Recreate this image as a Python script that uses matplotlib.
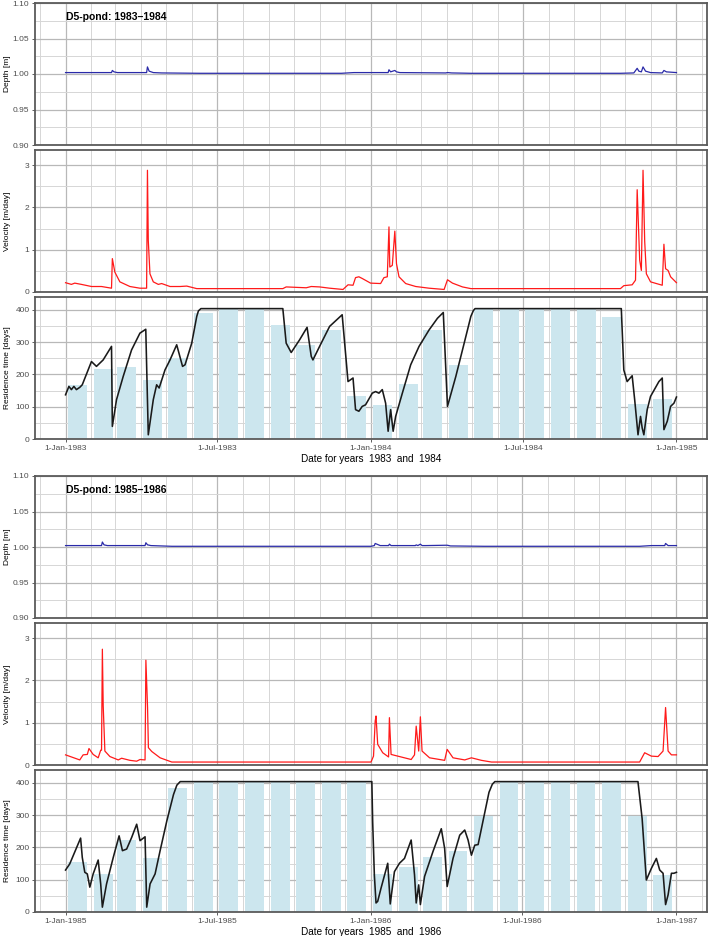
import numpy as np
import matplotlib
matplotlib.use('Agg')
import matplotlib.pyplot as plt
import matplotlib.dates as mdates
from matplotlib.ticker import MultipleLocator, FuncFormatter
import datetime as dt

plt.rcParams['font.family'] = ['Liberation Sans', 'DejaVu Sans']

# ---------------- data ----------------
years_a = (1983, 1984)
years_b = (1985, 1986)

# monthly residence time bars [days]
bars_a = [168, 217, 222, 184, 251, 390, 402, 402, 354, 292, 338, 134,
          104, 170, 338, 230, 402, 402, 402, 402, 402, 379, 109, 125]
bars_b = [154, 118, 224, 167, 385, 402, 402, 402, 402, 402, 402, 402,
          117, 140, 169, 189, 296, 402, 402, 402, 402, 402, 297, 115]

# residence time line (day offset from 1 Jan of first year, value in days)
res_a_day = [0, 4, 7, 10, 13, 17, 20, 31, 37, 45, 55, 56, 61, 69, 79, 89, 96, 99, 105, 109,
             112, 119, 125, 133, 140, 143, 151, 157, 159, 162, 260, 264, 270, 280, 289, 294,
             296, 304, 316, 331, 338, 344, 347, 351, 355, 359, 367, 371, 375, 379, 383, 386,
             389, 392, 395, 403, 413, 423, 435, 445, 452, 457, 467, 477, 485, 488, 490, 665,
             668, 672, 678, 681, 685, 688, 690, 692, 696, 700, 710, 714, 716, 720, 724, 728,
             731]
res_a_val = [137, 163, 153, 163, 153, 160, 168, 240, 225, 245, 287, 39, 122, 194, 276, 328,
             340, 13, 122, 168, 158, 214, 245, 292, 225, 230, 297, 380, 397, 404, 404, 297,
             268, 307, 346, 256, 245, 287, 349, 385, 178, 189, 91, 86, 101, 106, 142, 147,
             142, 153, 111, 24, 91, 24, 70, 142, 230, 287, 338, 374, 392, 101, 194, 297, 380,
             398, 404, 404, 214, 178, 196, 122, 13, 70, 34, 13, 91, 132, 178, 189, 29, 55, 101,
             111, 130]

res_b_day = [0, 5, 18, 20, 23, 26, 29, 33, 39, 42, 44, 49, 57, 64, 68, 73, 79, 85, 89, 95,
             97, 101, 107, 113, 121, 129, 133, 137, 366, 367, 369, 371, 373, 377, 385, 388,
             393, 399, 405, 413, 417, 419, 422, 424, 429, 439, 449, 453, 456, 463, 471, 477,
             481, 485, 489, 493, 499, 506, 510, 513, 684, 689, 694, 700, 706, 710, 714, 717,
             720, 724, 727, 730]
res_b_val = [130, 149, 229, 169, 123, 118, 77, 118, 161, 87, 15, 87, 169, 236, 190, 195, 231,
             272, 221, 233, 15, 87, 118, 190, 282, 364, 393, 404, 404, 279, 115, 28, 33, 74,
             151, 25, 125, 151, 166, 223, 115, 28, 84, 23, 110, 187, 258, 197, 79, 166, 238,
             254, 223, 176, 207, 209, 284, 371, 396, 404, 404, 289, 99, 135, 166, 130, 120, 23,
             53, 120, 120, 123]

# velocity [m/day]
vel_a_day = [0, 7, 11, 19, 31, 43, 55, 56, 59, 65, 77, 89, 97, 98, 99, 101, 105, 111, 115,
             125, 137, 145, 157, 260, 264, 288, 294, 304, 316, 332, 338, 344, 347, 351, 355,
             365, 377, 381, 385, 387, 388, 391, 394, 396, 399, 407, 419, 435, 453, 457, 463,
             475, 485, 664, 668, 678, 682, 684, 687, 689, 691, 693, 695, 700, 714, 716, 718,
             721, 724, 731]
vel_a_val = [0.22, 0.18, 0.21, 0.18, 0.13, 0.13, 0.09, 0.79, 0.47, 0.24, 0.13, 0.09, 0.09,
             2.88, 1.22, 0.43, 0.24, 0.18, 0.20, 0.13, 0.13, 0.14, 0.08, 0.08, 0.12, 0.10,
             0.13, 0.12, 0.09, 0.06, 0.17, 0.16, 0.34, 0.36, 0.32, 0.21, 0.20, 0.34, 0.36,
             1.54, 0.59, 0.63, 1.44, 0.67, 0.36, 0.20, 0.13, 0.09, 0.06, 0.29, 0.21, 0.12,
             0.08, 0.08, 0.15, 0.17, 0.28, 2.42, 0.75, 0.51, 2.88, 1.20, 0.43, 0.24, 0.16,
             1.13, 0.55, 0.51, 0.36, 0.22]

vel_b_day = [0, 17, 21, 26, 28, 33, 39, 42, 43, 44, 45, 47, 53, 63, 67, 77, 85, 89, 95, 96,
             98, 99, 103, 113, 127, 365, 368, 370, 371, 373, 379, 386, 387, 389, 399, 413,
             417, 419, 422, 424, 426, 435, 453, 456, 463, 477, 485, 497, 509, 686, 692, 700,
             708, 714, 717, 720, 724, 730]
vel_b_val = [0.24, 0.12, 0.24, 0.25, 0.39, 0.25, 0.17, 0.35, 0.35, 2.74, 1.40, 0.33, 0.20,
             0.12, 0.16, 0.11, 0.09, 0.13, 0.12, 2.48, 1.36, 0.41, 0.32, 0.17, 0.07, 0.07,
             0.21, 1.04, 1.16, 0.49, 0.29, 0.19, 1.12, 0.25, 0.20, 0.13, 0.24, 0.92, 0.33,
             1.14, 0.33, 0.17, 0.11, 0.37, 0.17, 0.12, 0.17, 0.11, 0.07, 0.07, 0.29, 0.21,
             0.20, 0.33, 1.36, 0.33, 0.24, 0.24]

# depth [m]
dep_a_day = [0, 40, 55, 56, 58, 62, 90, 97, 98, 100, 105, 115, 160, 260, 330, 345, 360, 386,
             387, 389, 394, 396, 400, 455, 457, 462, 485, 664, 680, 684, 686, 689, 691, 694,
             700, 714, 716, 719, 731]
dep_a_val = [1.002, 1.002, 1.002, 1.005, 1.003, 1.002, 1.002, 1.002, 1.010, 1.004, 1.002,
             1.0015, 1.001, 1.001, 1.001, 1.002, 1.002, 1.002, 1.006, 1.003, 1.005, 1.003,
             1.002, 1.0015, 1.002, 1.0015, 1.001, 1.001, 1.0015, 1.008, 1.004, 1.003, 1.010,
             1.004, 1.002, 1.0015, 1.005, 1.003, 1.002]

dep_b_day = [0, 30, 43, 44, 46, 50, 95, 96, 98, 102, 127, 365, 369, 370, 372, 376, 386, 387,
             389, 418, 419, 421, 424, 426, 430, 456, 460, 500, 686, 700, 716, 717, 720, 730]
dep_b_val = [1.002, 1.002, 1.002, 1.007, 1.003, 1.002, 1.002, 1.006, 1.003, 1.002, 1.001,
             1.001, 1.002, 1.005, 1.004, 1.002, 1.002, 1.004, 1.002, 1.002, 1.003, 1.002,
             1.004, 1.002, 1.002, 1.0025, 1.0015, 1.001, 1.001, 1.002, 1.002, 1.005, 1.002,
             1.002]

# ---------------- figure ----------------
W, H = 709, 936
fig = plt.figure(figsize=(W / 100, H / 100), dpi=100)

LEFT, RIGHT = 35, 707


def rect(top, bottom):
    return [LEFT / W, 1 - bottom / H, (RIGHT - LEFT) / W, (bottom - top) / H]


def date_fmt(x, pos):
    d = mdates.num2date(x)
    return f"{d.day}-{d.strftime('%b-%Y')}"


def style(ax, x0, x1, ylim, major, minor, fmt, show_x):
    pad = (x1 - x0) * 0.05
    ax.set_xlim(x0 - pad, x1 + pad)
    ax.set_ylim(*ylim)
    ax.yaxis.set_major_locator(MultipleLocator(major))
    ax.yaxis.set_minor_locator(MultipleLocator(minor))
    ax.yaxis.set_major_formatter(FuncFormatter(fmt))
    ax.xaxis.set_major_locator(mdates.MonthLocator(bymonth=[1, 7]))
    ax.xaxis.set_minor_locator(mdates.MonthLocator())
    ax.xaxis.set_major_formatter(FuncFormatter(date_fmt))
    ax.grid(which='minor', color='#d6d6d6', lw=0.7)
    ax.grid(which='major', color='#b8b8b8', lw=0.9)
    ax.set_axisbelow(True)
    for s in ax.spines.values():
        s.set_color('#5a5a5a')
        s.set_linewidth(1.3)
    ax.tick_params(which='major', length=2.5, width=0.6, color='#444444',
                   labelcolor='#4d4d4d', labelsize=6, pad=1.5)
    ax.tick_params(which='minor', length=0)
    if not show_x:
        ax.tick_params(axis='x', which='both', length=0, labelbottom=False)
    ax.yaxis.set_label_coords(-0.035, 0.5)


blocks = [
    dict(years=years_a, top=3, bars=bars_a, rd=res_a_day, rv=res_a_val,
         vd=vel_a_day, vv=vel_a_val, dd=dep_a_day, dv=dep_a_val),
    dict(years=years_b, top=476, bars=bars_b, rd=res_b_day, rv=res_b_val,
         vd=vel_b_day, vv=vel_b_val, dd=dep_b_day, dv=dep_b_val),
]

for b in blocks:
    y1, y2 = b['years']
    start = mdates.date2num(dt.datetime(y1, 1, 1))
    end = mdates.date2num(dt.datetime(y2 + 1, 1, 1))
    t = b['top']

    # depth
    ax1 = fig.add_axes(rect(t, t + 142))
    ax1.plot(start + np.asarray(b['dd'], float), b['dv'], color='#2a2aa8', lw=0.9)
    style(ax1, start, end, (0.90, 1.10), 0.05, 0.025, lambda v, p: f"{v:.2f}", False)
    ax1.set_ylabel('Depth [m]', fontsize=6)
    ax1.text(start, 1.08, f"D5-pond: {y1}\u2013{y2}", fontsize=7.5, fontweight='bold',
             ha='left', va='center')

    # velocity
    ax2 = fig.add_axes(rect(t + 147, t + 289))
    ax2.plot(start + np.asarray(b['vd'], float), b['vv'], color='#ff1a1a', lw=0.9)
    style(ax2, start, end, (0, 3.36), 1, 0.5, lambda v, p: f"{v:g}", False)
    ax2.set_ylabel('Velocity [m/day]', fontsize=6)

    # residence time
    ax3 = fig.add_axes(rect(t + 294, t + 436))
    months = [mdates.date2num(dt.datetime(y, m, 15)) for y in (y1, y2) for m in range(1, 13)]
    ax3.bar(months, b['bars'], width=22.5, color='#cce6ee', zorder=1.5)
    ax3.plot(start + np.asarray(b['rd'], float), b['rv'], color='#1a1a1a', lw=1.15, zorder=3)
    style(ax3, start, end, (0, 440), 100, 50, lambda v, p: f"{v:g}", True)
    ax3.set_ylabel('Residence time [days]', fontsize=6)
    ax3.set_xlabel(f"Date for years  {y1}  and  {y2}", fontsize=7.2, labelpad=1.5)

fig.savefig('out.png', dpi=100)
